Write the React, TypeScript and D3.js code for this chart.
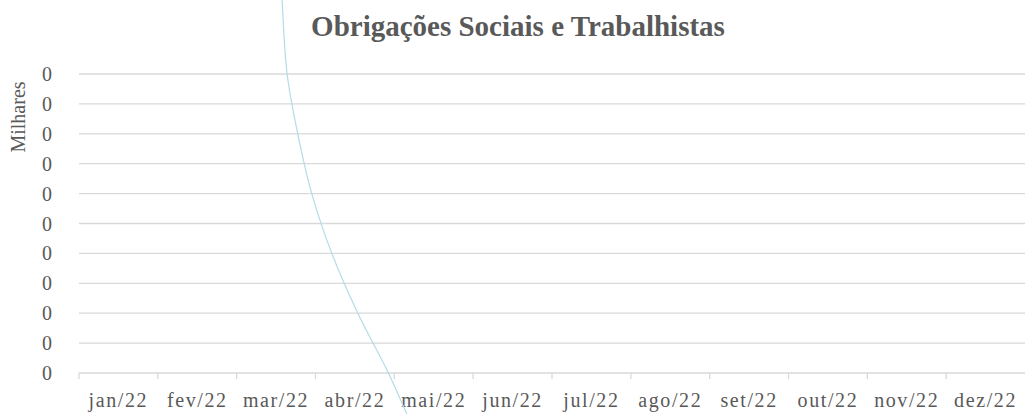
import * as React from "react";
import { scaleBand, scaleLinear, line, curveCatmullRom, range, format } from "d3";

// categories (x axis)
const months = [
  "jan/22", "fev/22", "mar/22", "abr/22", "mai/22", "jun/22",
  "jul/22", "ago/22", "set/22", "out/22", "nov/22", "dez/22"
];

// y axis, in milhares (all ticks round to "0")
const yMax = 0.01;
const yStep = 0.001;

// the stray smoothed line:
// position along the month axis (0 = left edge of jan/22) and value in milhares
const trendPos = [2.561, 2.576, 2.64, 2.775, 2.953, 3.207, 3.537, 3.925, 4.159, 4.28];
const trendValues = [0.01314, 0.01247, 0.01, 0.008, 0.006, 0.004, 0.002, 0, -0.00137, -0.00204];

const W = 1033;
const H = 414;
const margin = { top: 74, right: 8, bottom: 41, left: 79 };
const textColor = "#595959";
const font = "'Liberation Serif', 'DejaVu Serif', serif";

export default function App() {
  const innerW = W - margin.left - margin.right;
  const innerH = H - margin.top - margin.bottom;

  const x = scaleBand().domain(months).range([0, innerW]).padding(0);
  const xPos = scaleLinear().domain([0, months.length]).range([0, innerW]);
  const y = scaleLinear().domain([0, yMax]).range([innerH, 0]);

  const ticks = range(0, 11).map(i => i * yStep);
  const fmt = format(".0f");

  const trendLine = line<number>()
    .x((_, i) => xPos(trendPos[i]))
    .y(d => y(d))
    .curve(curveCatmullRom.alpha(0.5));

  return (
    <svg
      width={W}
      height={H}
      style={{ position: "absolute", left: 0, top: 0, background: "#fff" }}
    >
      <text
        x={518}
        y={36}
        textAnchor="middle"
        fontFamily={font}
        fontWeight="bold"
        fontSize={29}
        fill={textColor}
      >
        Obrigações Sociais e Trabalhistas
      </text>
      <text
        transform={`translate(25, 117) rotate(-90)`}
        textAnchor="middle"
        fontFamily={font}
        fontSize={20}
        fill={textColor}
      >
        Milhares
      </text>
      <g transform={`translate(${margin.left}, ${margin.top})`}>
        {ticks.map((t, i) => (
          <g key={i}>
            <line x1={0} x2={innerW} y1={y(t)} y2={y(t)} stroke="#d9d9d9" strokeWidth={1.3} />
            <text
              x={-27}
              y={y(t)}
              dy="0.35em"
              textAnchor="end"
              fontFamily={font}
              fontSize={20}
              fill={textColor}
            >
              {fmt(t)}
            </text>
          </g>
        ))}
        {months.map((m, i) => (
          <line
            key={"tick" + i}
            x1={x(m)}
            x2={x(m)}
            y1={innerH}
            y2={innerH + 6}
            stroke="#d9d9d9"
            strokeWidth={1.3}
          />
        ))}
        {months.map(m => (
          <text
            key={m}
            x={(x(m) ?? 0) + x.bandwidth() / 2}
            y={innerH + 34}
            textAnchor="middle"
            fontFamily={font}
            fontSize={20}
            letterSpacing={1.6}
            fill={textColor}
          >
            {m}
          </text>
        ))}
        <path
          d={trendLine(trendValues) ?? ""}
          fill="none"
          stroke="#b4dbe8"
          strokeWidth={1.2}
        />
      </g>
    </svg>
  );
}
